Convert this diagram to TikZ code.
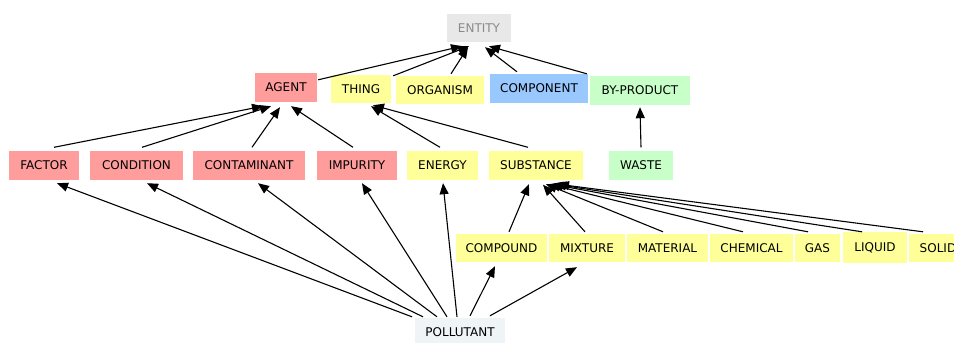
\documentclass[tikz,border=0pt]{standalone}
\usepackage{fontspec}
\setmainfont{DejaVu Sans}
\usetikzlibrary{arrows.meta,calc}
\definecolor{cpink}{HTML}{FF9C9C}
\definecolor{cyellow}{HTML}{FFFF99}
\definecolor{cblue}{HTML}{99C8FF}
\definecolor{cgreen}{HTML}{C8FFC8}
\definecolor{cgrey}{HTML}{E8E8E8}
\definecolor{cgreytext}{HTML}{8A8A8A}
\definecolor{cpale}{HTML}{EFF4F7}
\tikzset{
  box/.style={inner sep=0pt, font=\fontsize{12}{14}\selectfont, text=black},
  pinkbox/.style={box, fill=cpink},
  yellowbox/.style={box, fill=cyellow},
  bluebox/.style={box, fill=cblue},
  greenbox/.style={box, fill=cgreen},
  greybox/.style={box, fill=cgrey, text=cgreytext},
  palebox/.style={box, fill=cpale},
  edge/.style={draw=black, line width=1.1pt, -{Triangle[length=11pt,width=9pt]}},
}
\begin{document}
\begin{tikzpicture}[x=1pt,y=-1pt]
\useasboundingbox (0,0) rectangle (954,343);
\clip (0,0) rectangle (954,343);
% row 0
\node[greybox, minimum width=64pt, minimum height=28pt] (entity) at (479,28) {ENTITY};
% row 1
\node[pinkbox, minimum width=62pt, minimum height=29pt] (agent) at (286,87.5) {AGENT};
\node[yellowbox, minimum width=60pt, minimum height=28pt] (thing) at (361,89) {THING};
\node[yellowbox, minimum width=88pt, minimum height=28pt] (organism) at (440,90) {ORGANISM};
\node[bluebox, minimum width=98pt, minimum height=29pt] (component) at (539,88.5) {COMPONENT};
\node[greenbox, minimum width=100pt, minimum height=29pt] (byproduct) at (640,90.5) {BY-PRODUCT};
% row 2
\node[pinkbox, minimum width=70pt, minimum height=29pt] (factor) at (44,165) {FACTOR};
\node[pinkbox, minimum width=93pt, minimum height=29pt] (condition) at (136.5,165) {CONDITION};
\node[pinkbox, minimum width=112pt, minimum height=29pt] (contaminant) at (249,165) {CONTAMINANT};
\node[pinkbox, minimum width=80pt, minimum height=29pt] (impurity) at (357,165) {IMPURITY};
\node[yellowbox, minimum width=71pt, minimum height=29pt] (energy) at (442.5,165) {ENERGY};
\node[yellowbox, minimum width=94pt, minimum height=29pt] (substance) at (536,165) {SUBSTANCE};
\node[greenbox, minimum width=64pt, minimum height=29pt] (waste) at (641,165) {WASTE};
% row 3
\node[yellowbox, minimum width=91pt, minimum height=28pt] (compound) at (501.5,248) {COMPOUND};
\node[yellowbox, minimum width=76pt, minimum height=28pt] (mixture) at (587,248) {MIXTURE};
\node[yellowbox, minimum width=81pt, minimum height=28pt] (material) at (667.5,248) {MATERIAL};
\node[yellowbox, minimum width=83pt, minimum height=28pt] (chemical) at (751.5,248) {CHEMICAL};
\node[yellowbox, minimum width=45pt, minimum height=28pt] (gas) at (817.5,248) {GAS};
\node[yellowbox, minimum width=64pt, minimum height=31pt] (liquid) at (875,247.5) {LIQUID};
\node[yellowbox, minimum width=58pt, minimum height=28pt] (solid) at (938,248) {SOLID};
% bottom
\node[palebox, minimum width=90pt, minimum height=28pt] (pollutant) at (460,332) {POLLUTANT};
% edges to ENTITY
\draw[edge] ($(agent.north east)+(1,7)$) -- ($(entity.south)+(-17,4)$);
\draw[edge] ($(thing.north east)+(2,1)$) -- ($(entity.south)+(-10,4)$);
\draw[edge] ($(organism.north)+(11,-2)$) -- ($(entity.south)+(-11,5)$);
\draw[edge] ($(component.north)+(-22,-2)$) -- ($(entity.south)+(6,5)$);
\draw[edge] ($(byproduct.north west)+(-3,-2)$) -- ($(entity.south)+(10,4)$);
% edges to AGENT
\draw[edge] ($(factor.north)+(10,-3)$) -- ($(agent.south)+(-23,4)$);
\draw[edge] ($(condition.north)+(5.5,-3)$) -- ($(agent.south)+(-15,4)$);
\draw[edge] ($(contaminant.north)+(3,-3)$) -- ($(agent.south)+(-6,5)$);
\draw[edge] ($(impurity.north)+(-4,-3)$) -- ($(agent.south)+(5,4)$);
% edges to THING
\draw[edge] ($(energy.north)+(-2.5,-3)$) -- ($(thing.south)+(10,3)$);
\draw[edge] ($(substance.north)+(-8,-3)$) -- ($(thing.south)+(12,2)$);
% WASTE to BY-PRODUCT
\draw[edge] ($(waste.north)+(0,-3)$) -- ($(byproduct.south)+(0,2)$);
% edges to SUBSTANCE
\draw[edge] ($(compound.north)+(7.5,-2)$) -- ($(substance.south)+(-7,4.5)$);
\draw[edge] ($(mixture.north)+(-2,-2)$) -- ($(substance.south)+(7,5)$);
\draw[edge] ($(material.north)+(-4.5,-2)$) -- ($(substance.south)+(10,4.5)$);
\draw[edge] ($(chemical.north)+(-8.5,-2)$) -- ($(substance.south)+(13,4.5)$);
\draw[edge] ($(gas.north)+(-9.5,-2)$) -- ($(substance.south)+(16,4.5)$);
\draw[edge] ($(liquid.north)+(-13,0)$) -- ($(substance.south)+(19,4.5)$);
\draw[edge] ($(solid.north)+(-15,-2)$) -- ($(substance.south)+(22,4.5)$);
% edges from POLLUTANT
\draw[edge] ($(pollutant.north)+(-48,-1)$) -- ($(factor.south)+(13,3.5)$);
\draw[edge] ($(pollutant.north)+(-37,-1)$) -- ($(condition.south)+(10.5,3.5)$);
\draw[edge] ($(pollutant.north)+(-23,-1)$) -- ($(contaminant.south)+(9,3.5)$);
\draw[edge] ($(pollutant.north)+(-13,-1)$) -- ($(impurity.south)+(5,3.5)$);
\draw[edge] ($(pollutant.north)+(-3,-1)$) -- ($(energy.south)+(0.5,3.5)$);
\draw[edge] ($(pollutant.north)+(10,-2)$) -- ($(compound.south)+(-6.5,4)$);
\draw[edge] ($(pollutant.north)+(30,-2)$) -- ($(mixture.south)+(-10,5)$);
\end{tikzpicture}
\end{document}
